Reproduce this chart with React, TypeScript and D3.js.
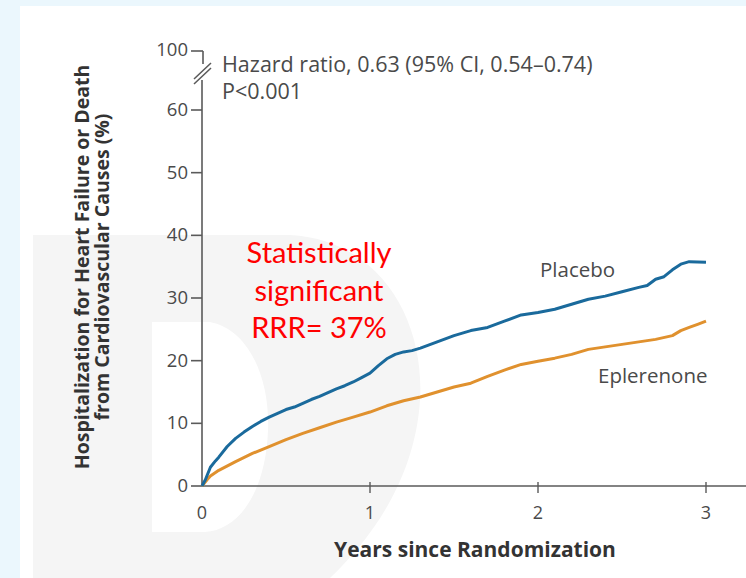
import React from "react";
import * as d3 from "d3";

const placeboT = [0, 0.02, 0.05, 0.08, 0.1, 0.15, 0.2, 0.25, 0.3, 0.35, 0.4, 0.45, 0.5, 0.55, 0.6, 0.65, 0.7, 0.75, 0.8, 0.85, 0.9, 0.95, 1.0, 1.05, 1.1, 1.15, 1.2, 1.25, 1.3, 1.4, 1.5, 1.6, 1.7, 1.8, 1.9, 2.0, 2.1, 2.2, 2.3, 2.4, 2.5, 2.6, 2.65, 2.7, 2.75, 2.8, 2.85, 2.9, 3.0];
const placeboV = [0, 1.0, 3.0, 4.0, 4.6, 6.3, 7.6, 8.6, 9.5, 10.3, 11.0, 11.6, 12.2, 12.6, 13.2, 13.8, 14.3, 14.9, 15.5, 16.0, 16.6, 17.3, 18.0, 19.2, 20.3, 21.0, 21.4, 21.6, 22.0, 23.0, 24.0, 24.8, 25.3, 26.3, 27.3, 27.7, 28.2, 29.0, 29.8, 30.3, 31.0, 31.7, 32.0, 33.0, 33.4, 34.5, 35.4, 35.8, 35.7];
const eplerT = [0, 0.03, 0.05, 0.1, 0.2, 0.3, 0.4, 0.5, 0.6, 0.7, 0.8, 0.9, 1.0, 1.1, 1.2, 1.3, 1.4, 1.5, 1.6, 1.7, 1.8, 1.9, 2.0, 2.1, 2.2, 2.3, 2.4, 2.5, 2.6, 2.7, 2.8, 2.85, 2.9, 2.95, 3.0];
const eplerV = [0, 1.0, 1.6, 2.5, 3.9, 5.2, 6.3, 7.4, 8.4, 9.3, 10.2, 11.0, 11.8, 12.8, 13.6, 14.2, 15.0, 15.8, 16.4, 17.5, 18.5, 19.4, 19.9, 20.4, 21.0, 21.8, 22.2, 22.6, 23.0, 23.4, 24.0, 24.8, 25.3, 25.8, 26.3];

const xTicks = [0, 1, 2, 3];
const yTicks = [0, 10, 20, 30, 40, 50, 60];
const yBreakTick = 100;

const seriesNames = ["Placebo", "Eplerenone"];
const statLines = ["Hazard ratio, 0.63 (95% CI, 0.54\u20130.74)", "P<0.001"];
const redLines = ["Statistically", "significant", "RRR= 37%"];
const yLabelLines = ["Hospitalization for Heart Failure or Death", "from Cardiovascular Causes (%)"];
const xLabel = "Years since Randomization";

const W = 746;
const H = 578;
const FONT = "'Open Sans', 'DejaVu Sans', sans-serif";

export default function App() {
  const x = d3.scaleLinear().domain([0, 3]).range([202, 706]);
  const y = d3.scaleLinear().domain([0, 60, 100]).range([486, 110, 51]);

  const line = d3
    .line<[number, number]>()
    .x((d) => x(d[0]))
    .y((d) => y(d[1]))
    .curve(d3.curveLinear);

  const plac: [number, number][] = placeboT.map((t, i) => [t, placeboV[i]]);
  const eple: [number, number][] = eplerT.map((t, i) => [t, eplerV[i]]);

  const axisX = x(0);
  const axisColor = "#5a5a5a";
  const textColor = "#4a4a4a";

  // Watermark "D"
  const outer = d3.path();
  outer.moveTo(33, 235);
  outer.lineTo(290, 235);
  outer.bezierCurveTo(380, 240, 425, 320, 420, 400);
  outer.bezierCurveTo(415, 480, 370, 540, 330, 578);
  outer.lineTo(33, 578);
  outer.closePath();
  const hole = d3.path();
  hole.moveTo(152, 322);
  hole.lineTo(210, 322);
  hole.bezierCurveTo(250, 330, 270, 380, 268, 430);
  hole.bezierCurveTo(266, 490, 240, 530, 205, 532);
  hole.lineTo(152, 532);
  hole.closePath();

  return (
    <svg width={W} height={H} style={{ position: "absolute", left: 0, top: 0 }}>
      <rect x={0} y={0} width={W} height={H} fill="#ebf7fd" />
      <rect x={20} y={6} width={W - 20} height={H - 6} fill="#ffffff" />
      <path d={outer.toString() + hole.toString()} fill="#f5f5f5" fillRule="evenodd" />

      {/* X axis */}
      <line x1={axisX} x2={W} y1={y(0)} y2={y(0)} stroke={axisColor} strokeWidth={1.6} />
      {xTicks.map((t) => (
        <g key={"xt" + t}>
          {t > 0 && <line x1={x(t)} x2={x(t)} y1={y(0) - 4} y2={y(0) + 7} stroke={axisColor} strokeWidth={1.4} />}
          <text x={x(t)} y={y(0) + 33} textAnchor="middle" fontFamily={FONT} fontSize={18} fill={textColor}>
            {t}
          </text>
        </g>
      ))}
      <text x={475} y={557} textAnchor="middle" fontFamily={FONT} fontSize={21} fontWeight="bold" fill="#333">
        {xLabel}
      </text>

      {/* Y axis lower segment */}
      <line x1={axisX} x2={axisX} y1={y(0)} y2={80} stroke={axisColor} strokeWidth={1.6} />
      {/* upper segment to break tick */}
      <line x1={axisX + 1} x2={axisX + 1} y1={y(yBreakTick)} y2={64} stroke={axisColor} strokeWidth={1.6} />
      <line x1={axisX - 11} x2={axisX + 1} y1={y(yBreakTick)} y2={y(yBreakTick)} stroke={axisColor} strokeWidth={1.6} />
      <text x={axisX - 14} y={y(yBreakTick) + 5} textAnchor="end" fontFamily={FONT} fontSize={18.5} fill={textColor}>
        {yBreakTick}
      </text>
      {/* break slashes */}
      <line x1={194} x2={211} y1={79} y2={63} stroke={axisColor} strokeWidth={1.5} />
      <line x1={194} x2={211} y1={84} y2={68} stroke={axisColor} strokeWidth={1.5} />
      {yTicks.map((v) => (
        <g key={"yt" + v}>
          <line x1={axisX - 11} x2={axisX} y1={y(v)} y2={y(v)} stroke={axisColor} strokeWidth={1.6} />
          <text x={axisX - 14} y={y(v) + 6} textAnchor="end" fontFamily={FONT} fontSize={18.5} fill={textColor}>
            {v}
          </text>
        </g>
      ))}
      {yLabelLines.map((s, i) => (
        <text
          key={s}
          transform={`translate(${89 + i * 20},${267}) rotate(-90)`}
          textAnchor="middle"
          fontFamily={FONT}
          fontSize={19.5}
          fontWeight="bold"
          fill="#333"
        >
          {s}
        </text>
      ))}

      {/* Curves */}
      <path d={line(eple) || ""} fill="none" stroke="#e0912e" strokeWidth={3} strokeLinejoin="round" />
      <path d={line(plac) || ""} fill="none" stroke="#1a6a9c" strokeWidth={3} strokeLinejoin="round" />

      {/* Series labels */}
      <text x={540} y={277} fontFamily={FONT} fontSize={20.5} fill={textColor}>
        {seriesNames[0]}
      </text>
      <text x={598} y={383} fontFamily={FONT} fontSize={20.5} fill={textColor}>
        {seriesNames[1]}
      </text>

      {/* Stats */}
      {statLines.map((s, i) => (
        <text key={s} x={222} y={72 + i * 27} fontFamily={FONT} fontSize={21.5} fill={textColor}>
          {s}
        </text>
      ))}

      {/* Red annotation */}
      {redLines.map((s, i) => (
        <text key={s} x={319} y={263 + i * 37.5} textAnchor="middle" fontFamily="Lato, 'Open Sans', sans-serif" fontSize={29} fill="#ff0000">
          {s}
        </text>
      ))}
    </svg>
  );
}
